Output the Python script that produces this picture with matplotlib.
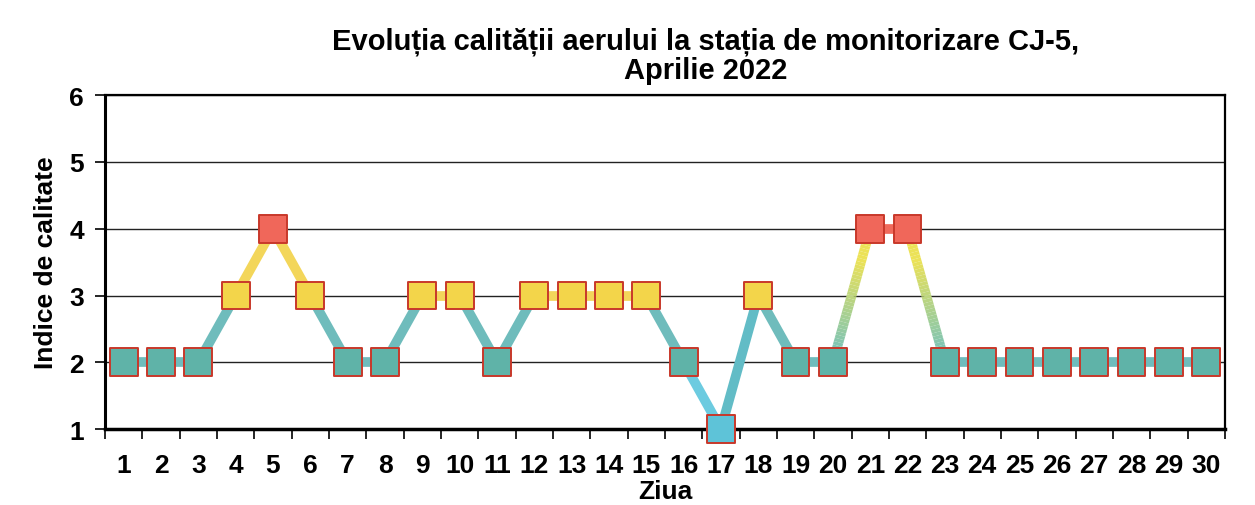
import numpy as np
import matplotlib
matplotlib.use("Agg")
import matplotlib.pyplot as plt
from matplotlib.collections import LineCollection
from matplotlib.colors import to_rgb

plt.rcParams['font.family'] = ['Liberation Sans', 'DejaVu Sans']
plt.rcParams['font.weight'] = 'bold'

days = list(range(1, 31))
index_values = [2, 2, 2, 3, 4, 3, 2, 2, 3, 3, 2, 3, 3, 3, 3, 2, 1, 3, 2, 2,
                4, 4, 2, 2, 2, 2, 2, 2, 2, 2]

# colour per quality index
marker_colors = {1: '#5ec3d8', 2: '#5fb3a8', 3: '#f3d54a', 4: '#f0675a'}
line_colors = {1: '#6ccbe0', 2: '#6fbcbc', 3: '#f3d65a', 4: '#f06a5c'}

fig = plt.figure(figsize=(12.55, 5.06), dpi=100)
ax = fig.add_axes([0.0837, 0.150, 0.8923, 0.660])

x = np.array(days, dtype=float)
y = np.array(index_values, dtype=float)

# line segments, colour by lower endpoint, gradient where jump is 2->4
segs, cols = [], []
for i in range(len(x) - 1):
    a, b = y[i], y[i + 1]
    lo = int(min(a, b))
    if abs(a - b) == 2 and lo == 2:
        n = 40
        ts = np.linspace(0, 1, n + 1)
        c_lo, c_mid = np.array(to_rgb('#6cc0c4')), np.array(to_rgb('#ece257'))
        for k in range(n):
            t0, t1 = ts[k], ts[k + 1]
            p0 = (x[i] + (x[i + 1] - x[i]) * t0, a + (b - a) * t0)
            p1 = (x[i] + (x[i + 1] - x[i]) * t1, a + (b - a) * t1)
            h = ((p0[1] + p1[1]) / 2 - 2) / 2
            f = min(1, h * 1.3)
            segs.append([p0, p1])
            cols.append(tuple(c_lo + (c_mid - c_lo) * f))
    elif abs(a - b) == 2 and lo == 1:
        segs.append([(x[i], a), (x[i + 1], b)])
        cols.append('#62bcc6')
    else:
        segs.append([(x[i], a), (x[i + 1], b)])
        cols.append(line_colors[lo])

lc = LineCollection(segs, colors=cols, linewidths=7, capstyle='butt', zorder=3)
lc.set_clip_on(False)
ax.add_collection(lc)

ax.scatter(x, y, marker='s', s=400, c=[marker_colors[int(v)] for v in y],
           edgecolors='#c8382a', linewidths=1.4, zorder=4, clip_on=False)

ax.set_xlim(0.5, 30.5)
ax.set_ylim(1, 6)
ax.set_yticks([1, 2, 3, 4, 5, 6])
ax.set_xticks(np.arange(0.5, 31, 1))
ax.set_xticklabels([])
ax.set_xticks(days, minor=True)
ax.set_xticklabels([str(d) for d in days], minor=True, fontsize=19, fontweight='bold')
ax.tick_params(axis='x', which='minor', length=0, pad=17)
ax.tick_params(axis='x', which='major', length=7, width=1.2, direction='out')
ax.tick_params(axis='y', length=7, width=1.2, direction='out', labelsize=19, pad=8)
for lab in ax.get_yticklabels():
    lab.set_fontweight('bold')

ax.yaxis.grid(True, color='#222222', linewidth=1.0)
ax.set_axisbelow(True)
for s in ax.spines.values():
    s.set_linewidth(1.6)
ax.spines['left'].set_linewidth(2.2)
ax.spines['bottom'].set_linewidth(2.5)

ax.set_ylabel('Indice de calitate', fontsize=19, fontweight='bold', labelpad=8)
ax.set_xlabel('Ziua', fontsize=19, fontweight='bold', labelpad=2)

fig.text(0.562, 0.945, 'Evoluția calității aerului la stația de monitorizare CJ-5,\nAprilie 2022',
         ha='center', va='top', fontsize=21, fontweight='bold', linespacing=1.05)

fig.savefig('out.png', dpi=100)
